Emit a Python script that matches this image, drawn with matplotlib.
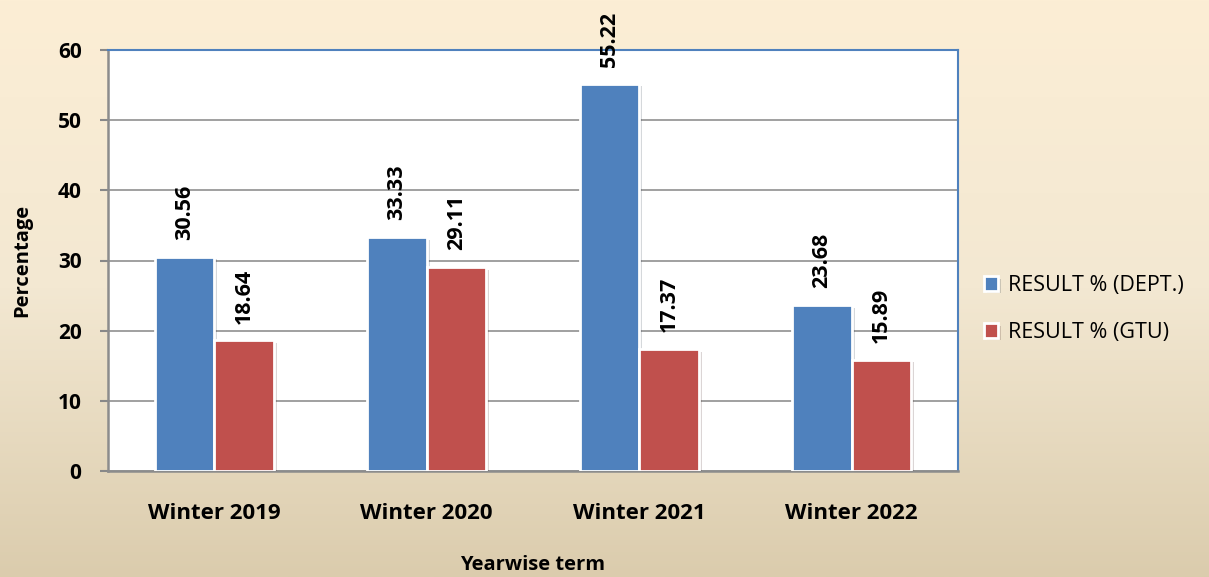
import numpy as np
import matplotlib
matplotlib.use("Agg")
import matplotlib.pyplot as plt
import matplotlib.patheffects as pe
from matplotlib.colors import LinearSegmentedColormap

# --- datos ---
terminos = ["Winter 2019", "Winter 2020", "Winter 2021", "Winter 2022"]
result_dept = [30.56, 33.33, 55.22, 23.68]
result_gtu = [18.64, 29.11, 17.37, 15.89]
series = ["RESULT % (DEPT.)", "RESULT % (GTU)"]
yticks = [0, 10, 20, 30, 40, 50, 60]

AZUL = "#4F81BD"
ROJO = "#C0504D"

plt.rcParams["font.family"] = ["Open Sans", "DejaVu Sans"]

fig = plt.figure(figsize=(12.09, 5.77), dpi=100)

# fondo degradado
bg = fig.add_axes([0, 0, 1, 1], zorder=-10)
cmap = LinearSegmentedColormap.from_list("fondo", ["#FCEED5", "#F3E8D2", "#DBCCAD"])
bg.imshow(np.linspace(0, 1, 256).reshape(-1, 1), aspect="auto", cmap=cmap,
          extent=[0, 1, 0, 1])
bg.axis("off")

ax = fig.add_axes([108 / 1209, 1 - 471 / 577, 850 / 1209, 421 / 577])
ax.set_facecolor("white")

x = np.arange(len(terminos))
ancho = 0.28
sombra = [pe.SimplePatchShadow(offset=(2, -2), alpha=0.18), pe.Normal()]
b1 = ax.bar(x - ancho / 2, result_dept, ancho, color=AZUL, edgecolor="white",
            linewidth=2, label=series[0], zorder=3)
b2 = ax.bar(x + ancho / 2, result_gtu, ancho, color=ROJO, edgecolor="white",
            linewidth=2, label=series[1], zorder=3)
for barras in (b1, b2):
    for b in barras:
        b.set_path_effects(sombra)
        ax.annotate(f"{b.get_height():.2f}", (b.get_x() + b.get_width() / 2, b.get_height()),
                    xytext=(0, 12), textcoords="offset points", rotation=90,
                    ha="center", va="bottom", fontsize=15.5, fontweight="bold",
                    annotation_clip=False)

ax.set_xlim(-0.5, len(terminos) - 0.5)
ax.set_ylim(0, 60)
ax.set_yticks(yticks)
ax.set_yticklabels([str(v) for v in yticks], fontsize=15, fontweight="bold")
ax.set_xticks(x)
ax.set_xticklabels(terminos, fontsize=16, fontweight="bold")
ax.tick_params(axis="x", length=0, pad=23)
ax.tick_params(axis="y", length=6, width=1.5, color="#888888", pad=13)
ax.yaxis.grid(True, color="#999999", linewidth=1.3, zorder=0)
ax.set_axisbelow(True)

for lado in ("left", "bottom"):
    ax.spines[lado].set_color("#8C8C8C")
    ax.spines[lado].set_linewidth(1.8)
for lado in ("top", "right"):
    ax.spines[lado].set_color(AZUL)
    ax.spines[lado].set_linewidth(1.5)

ax.set_ylabel("Percentage", fontsize=14.5, fontweight="bold", va="center")
ax.yaxis.set_label_coords((22 - 108) / 850, (471 - 260) / 421)
ax.set_xlabel("Yearwise term", fontsize=14.5, fontweight="bold", va="center")
ax.xaxis.set_label_coords(0.5, (471 - 565) / 421)

ax.legend(loc="center left", bbox_to_anchor=((984 - 108) / 850, (471 - 309) / 421),
          frameon=False, fontsize=15.5, handlelength=0.65, handleheight=0.65,
          handletextpad=0.45, labelspacing=1.2, borderaxespad=0, borderpad=0)

fig.savefig("out.png", dpi=100)
